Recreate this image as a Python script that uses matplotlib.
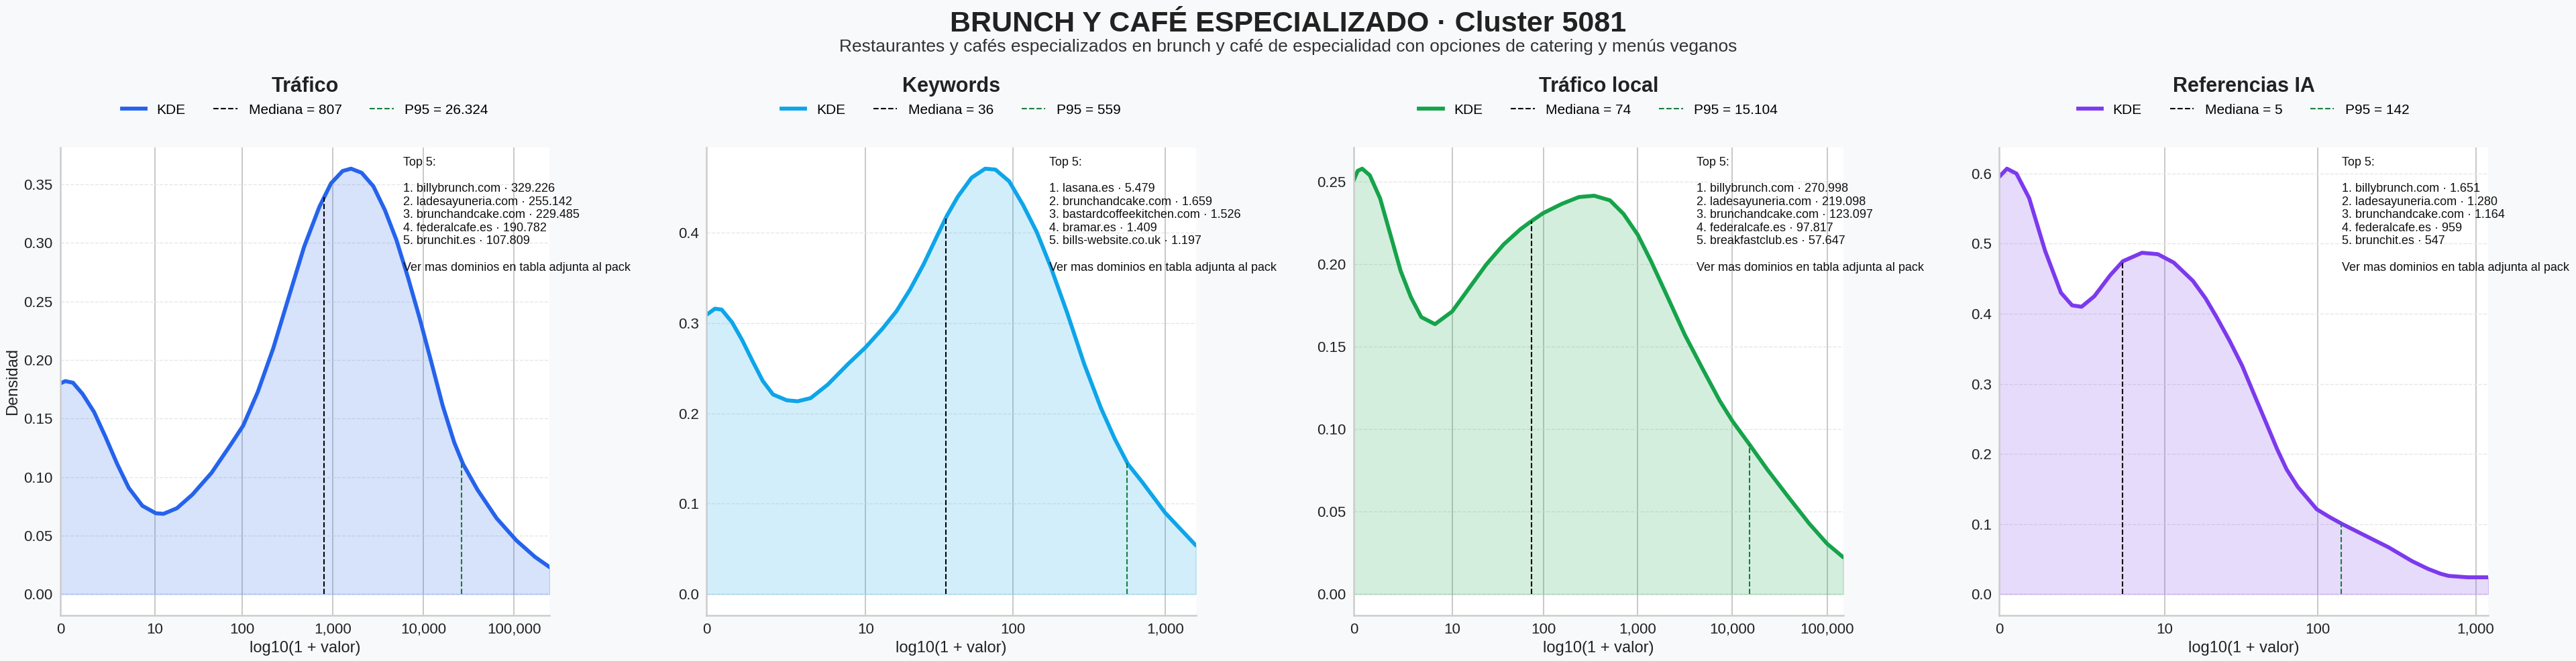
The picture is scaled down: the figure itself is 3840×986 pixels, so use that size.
import numpy as np
import matplotlib.pyplot as plt
from matplotlib.lines import Line2D
from matplotlib.ticker import FixedLocator

plt.rcParams['font.family'] = ['Liberation Sans', 'DejaVu Sans']

# ─────────────────────────────────────────
# DATA (x in log10(1 + valor))
# ─────────────────────────────────────────
trafico_x = [0.0, 0.055, 0.14, 0.246, 0.373, 0.50, 0.628, 0.755, 0.904, 1.052, 1.137,
             1.285, 1.455, 1.667, 1.88, 2.015, 2.176, 2.346, 2.516, 2.686, 2.855, 2.983,
             3.11, 3.203, 3.32, 3.449, 3.577, 3.704, 3.83, 3.958, 4.086, 4.213, 4.34,
             4.438, 4.595, 4.807, 5.023, 5.231, 5.392]
trafico_y = [0.180, 0.182, 0.1806, 0.171, 0.1555, 0.134, 0.111, 0.0907, 0.0755, 0.0691,
             0.0686, 0.0734, 0.085, 0.1037, 0.128, 0.144, 0.1728, 0.210, 0.2535, 0.2967,
             0.331, 0.351, 0.3615, 0.3635, 0.360, 0.3485, 0.328, 0.3024, 0.2707, 0.236,
             0.1987, 0.161, 0.1296, 0.111, 0.0893, 0.0648, 0.046, 0.0317, 0.023]

keywords_x = [0.0, 0.056, 0.10, 0.168, 0.235, 0.302, 0.369, 0.436, 0.526, 0.597, 0.682,
              0.794, 0.928, 1.04, 1.152, 1.242, 1.331, 1.42, 1.51, 1.573, 1.644, 1.734,
              1.823, 1.89, 1.98, 2.07, 2.16, 2.25, 2.36, 2.47, 2.58, 2.67, 2.756, 2.85,
              3.00, 3.20]
keywords_y = [0.309, 0.316, 0.315, 0.301, 0.281, 0.258, 0.236, 0.221, 0.2146, 0.2135,
              0.217, 0.232, 0.255, 0.273, 0.294, 0.313, 0.337, 0.365, 0.397, 0.419,
              0.440, 0.461, 0.471, 0.470, 0.457, 0.431, 0.401, 0.363, 0.311, 0.255,
              0.206, 0.172, 0.144, 0.124, 0.090, 0.054]

local_x = [0.0, 0.043, 0.09, 0.17, 0.279, 0.388, 0.496, 0.605, 0.714, 0.859, 1.04,
           1.221, 1.402, 1.583, 1.764, 1.873, 2.0, 2.20, 2.38, 2.54, 2.707, 2.85, 3.0,
           3.14, 3.32, 3.50, 3.685, 3.866, 4.0, 4.18, 4.37, 4.59, 4.81, 5.0, 5.17]
local_y = [0.251, 0.2567, 0.258, 0.254, 0.240, 0.218, 0.196, 0.180, 0.168, 0.1637,
           0.1714, 0.1857, 0.200, 0.212, 0.2214, 0.226, 0.231, 0.2367, 0.2408, 0.2416,
           0.2388, 0.2306, 0.218, 0.202, 0.1796, 0.157, 0.1367, 0.1173, 0.105, 0.0908,
           0.0755, 0.059, 0.0429, 0.0306, 0.0224]

ia_x = [0.0, 0.05, 0.11, 0.19, 0.29, 0.39, 0.46, 0.52, 0.60, 0.70, 0.78, 0.90, 1.00,
        1.10, 1.22, 1.30, 1.37, 1.45, 1.53, 1.60, 1.68, 1.75, 1.81, 1.88, 1.94, 2.00,
        2.08, 2.16, 2.30, 2.45, 2.60, 2.70, 2.78, 2.83, 2.95, 3.08]
ia_y = [0.595, 0.607, 0.600, 0.565, 0.490, 0.430, 0.412, 0.410, 0.425, 0.455, 0.475,
        0.487, 0.485, 0.473, 0.447, 0.422, 0.395, 0.362, 0.326, 0.288, 0.245, 0.207,
        0.178, 0.153, 0.137, 0.121, 0.110, 0.100, 0.084, 0.067, 0.047, 0.036, 0.029,
        0.026, 0.024, 0.024]

titles = ["Tráfico", "Keywords", "Tráfico local", "Referencias IA"]
colors = ["#2563eb", "#0ea5e9", "#16a34a", "#7c3aed"]
medians = [807, 36, 74, 5]
p95s = [26324, 559, 15104, 142]
tick_values = [[0, 10, 100, 1000, 10000, 100000],
               [0, 10, 100, 1000],
               [0, 10, 100, 1000, 10000, 100000],
               [0, 10, 100, 1000]]

top5 = [
    ["billybrunch.com · 329.226", "ladesayuneria.com · 255.142",
     "brunchandcake.com · 229.485", "federalcafe.es · 190.782", "brunchit.es · 107.809"],
    ["lasana.es · 5.479", "brunchandcake.com · 1.659",
     "bastardcoffeekitchen.com · 1.526", "bramar.es · 1.409", "bills-website.co.uk · 1.197"],
    ["billybrunch.com · 270.998", "ladesayuneria.com · 219.098",
     "brunchandcake.com · 123.097", "federalcafe.es · 97.817", "breakfastclub.es · 57.647"],
    ["billybrunch.com · 1.651", "ladesayuneria.com · 1.280",
     "brunchandcake.com · 1.164", "federalcafe.es · 959", "brunchit.es · 547"],
]

curves = [(trafico_x, trafico_y), (keywords_x, keywords_y),
          (local_x, local_y), (ia_x, ia_y)]


def fmt_es(v):
    return f"{v:,}".replace(",", ".")


BG = "#f8f9fb"
fig = plt.figure(figsize=(38.4, 9.86), dpi=100)
fig.patch.set_facecolor(BG)

fig.text(0.5, 0.963, "BRUNCH Y CAFÉ ESPECIALIZADO · Cluster 5081",
         ha='center', va='center', fontsize=31, fontweight='bold', color='#222222')
fig.text(0.5, 0.929, "Restaurantes y cafés especializados en brunch y café de especialidad "
         "con opciones de catering y menús veganos",
         ha='center', va='center', fontsize=19, color='#333333')

lefts = [0.0234, 0.2742, 0.5255, 0.776]
for i in range(4):
    ax = fig.add_axes([lefts[i], 0.069, 0.190, 0.708])
    ax.set_facecolor('white')
    x = np.array(curves[i][0])
    y = np.array(curves[i][1])
    col = colors[i]

    ax.fill_between(x, 0, y, color=col, alpha=0.18, linewidth=1.5)
    ax.plot(x, y, color=col, lw=4.2, solid_capstyle='round', solid_joinstyle='round')

    med = np.log10(1 + medians[i])
    p95 = np.log10(1 + p95s[i])
    ax.plot([med, med], [0, np.interp(med, x, y)], color='black', ls='--', lw=1.5)
    ax.plot([p95, p95], [0, np.interp(p95, x, y)], color='#15803d', ls='--', lw=1.5)

    peak = y.max()
    ax.set_xlim(0, x.max())
    ax.set_ylim(-0.05 * peak, 1.05 * peak)

    tv = tick_values[i]
    ax.xaxis.set_major_locator(FixedLocator([np.log10(1 + v) for v in tv]))
    ax.set_xticklabels([f"{v:,}" for v in tv])
    ax.tick_params(axis='both', labelsize=16, length=0, pad=8, colors='#222222')

    ax.grid(axis='x', color='#c4c4c4', lw=1.3)
    ax.grid(axis='y', color='#e6e6e6', lw=1.0, ls='--')
    ax.set_axisbelow(True)
    for s in ['top', 'right']:
        ax.spines[s].set_visible(False)
    for s in ['left', 'bottom']:
        ax.spines[s].set_color('#cccccc')
        ax.spines[s].set_linewidth(1.8)

    ax.set_xlabel("log10(1 + valor)", fontsize=17, color='#222222')
    if i == 0:
        ax.set_ylabel("Densidad", fontsize=17, color='#222222')

    ax.set_title(titles[i], fontsize=22, fontweight='bold', pad=60, color='#222222')
    handles = [Line2D([], [], color=col, lw=4.2),
               Line2D([], [], color='black', ls='--', lw=1.5),
               Line2D([], [], color='#15803d', ls='--', lw=1.5)]
    labels = ["KDE", f"Mediana = {fmt_es(medians[i])}", f"P95 = {fmt_es(p95s[i])}"]
    ax.legend(handles, labels, loc='center', bbox_to_anchor=(0.5, 1.08), ncol=3,
              frameon=False, fontsize=15, handlelength=1.7, columnspacing=2.0)

    txt = "Top 5:\n\n" + "\n".join(f"{k + 1}. {d}" for k, d in enumerate(top5[i]))
    txt += "\n\nVer mas dominios en tabla adjunta al pack"
    ax.text(0.70, 0.98, txt, transform=ax.transAxes, ha='left', va='top',
            fontsize=13, color='#111111', linespacing=1.2, clip_on=False)

fig.savefig("out.png", dpi=100, facecolor=BG)
